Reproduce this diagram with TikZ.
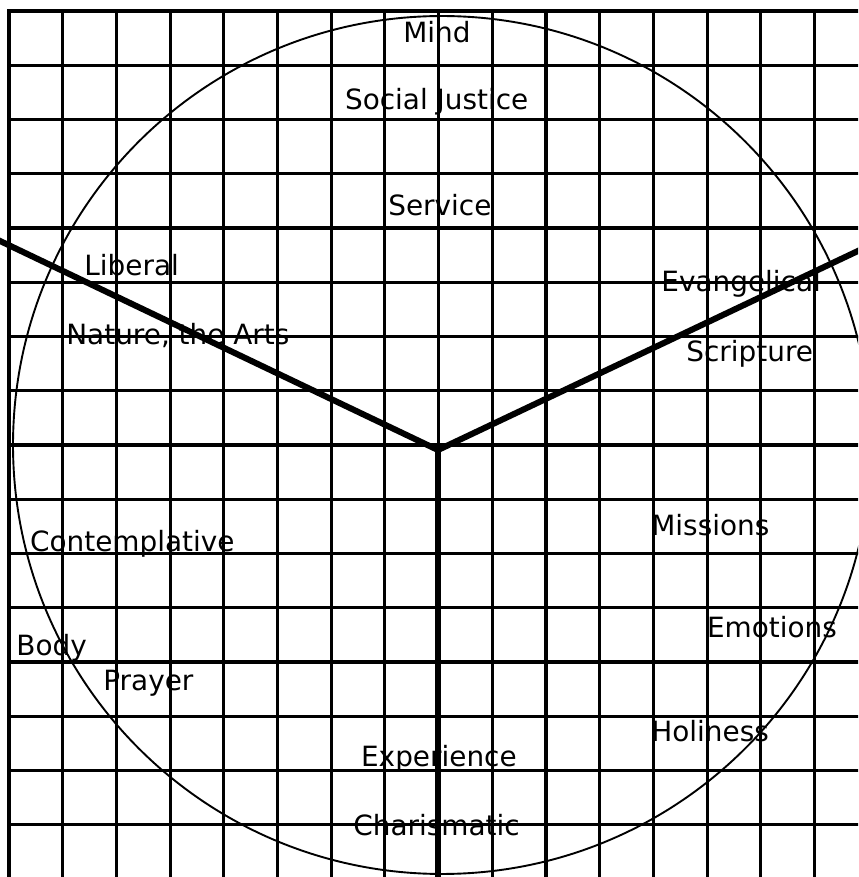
\documentclass[tikz,border=0pt]{standalone}
\usepackage{fontspec}
\setmainfont{DejaVu Sans}
\usetikzlibrary{positioning}

\begin{document}
\begin{tikzpicture}[
    gridline/.style={line width=1.6pt, line cap=rect},
    ring/.style={line width=1pt},
    spoke/.style={line width=3.2pt},
    tag/.style={anchor=base west, inner sep=0pt, font=\fontsize{14.7}{17}\selectfont}
]
\useasboundingbox (0,0) rectangle (15.889,16.241);
\clip (0,0) rectangle (15.889,16.241);

% --- Grid ---
\foreach \i in {0,...,15}
    \draw[gridline] ({0.1667+0.99444*\i},-0.2) -- ({0.1667+0.99444*\i},16.037);
\foreach \j in {0,...,15}
    \draw[gridline] (0.1667,{16.037-1.00463*\j}) -- (16.1,{16.037-1.00463*\j});

% --- Circle ---
\coordinate (core) at (8.185,8.0);
\draw[ring] (core) circle (7.944);

% --- Spokes ---
\coordinate (hub) at (8.111,7.907);
\coordinate (westend) at (-0.1,11.826);
\coordinate (eastend) at (16.0,11.646);
\coordinate (southend) at (8.111,-0.2);
\draw[spoke] (hub) -- (westend);
\draw[spoke] (hub) -- (eastend);
\draw[spoke] (hub) -- (southend);

% --- Top sector ---
\node[tag] (mind) at (7.463,15.457) {Mind};
\node[tag] (justice) at (6.383,14.204) {Social Justice};
\node[tag] (service) at (7.185,12.241) {Service};

% --- Left sector ---
\node[tag] (liberal) at (1.556,11.148) {Liberal};
\node[tag] (nature) at (1.222,9.852) {Nature, the Arts};
\node[tag] (contemplative) at (0.55,6.024) {Contemplative};
\node[tag] (body) at (0.296,4.093) {Body};
\node[tag] (prayer) at (1.907,3.457) {Prayer};

% --- Right sector ---
\node[tag] (evangelical) at (12.241,10.839) {Evangelical};
\node[tag] (scripture) at (12.704,9.537) {Scripture};
\node[tag] (missions) at (12.056,6.333) {Missions};
\node[tag] (emotions) at (13.087,4.431) {Emotions};
\node[tag] (holiness) at (12.056,2.5) {Holiness};

% --- Bottom ---
\node[tag] (experience) at (6.680,2.050) {Experience};
\node[tag] (charismatic) at (6.537,0.772) {Charismatic};

\end{tikzpicture}
\end{document}
